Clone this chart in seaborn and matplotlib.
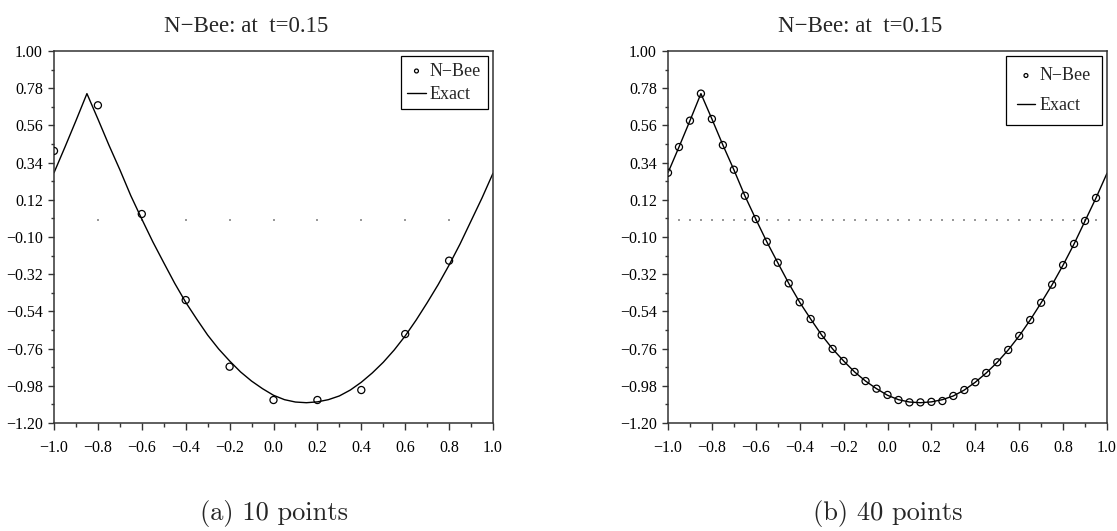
import numpy as np
import pandas as pd
import matplotlib
matplotlib.use("Agg")
import matplotlib.pyplot as plt
from matplotlib.ticker import MultipleLocator, FuncFormatter
import seaborn as sns

# ==========================
# Data
# ==========================

exact_x = [-1.00, -0.95, -0.90, -0.85, -0.80, -0.75, -0.70, -0.65, -0.60, -0.55,
           -0.50, -0.45, -0.40, -0.35, -0.30, -0.25, -0.20, -0.15, -0.10, -0.05,
           0.00, 0.05, 0.10, 0.15, 0.20, 0.25, 0.30, 0.35, 0.40, 0.45,
           0.50, 0.55, 0.60, 0.65, 0.70, 0.75, 0.80, 0.85, 0.90, 0.95, 1.00]
exact_y = [0.280, 0.432, 0.588, 0.748, 0.598, 0.444, 0.298, 0.144, 0.006, -0.128,
           -0.252, -0.374, -0.486, -0.585, -0.680, -0.762, -0.833, -0.898, -0.952, -0.997,
           -1.036, -1.062, -1.076, -1.080, -1.075, -1.062, -1.040, -1.005, -0.959, -0.904,
           -0.841, -0.768, -0.685, -0.591, -0.489, -0.382, -0.266, -0.141, -0.005, 0.131, 0.277]

# 10 point run
nbee10_x = [-1.0, -0.8, -0.6, -0.4, -0.2, 0.0, 0.2, 0.4, 0.6, 0.8]
nbee10_y = [0.409, 0.679, 0.036, -0.473, -0.867, -1.064, -1.064, -1.005, -0.674, -0.240]

# 40 point run
nbee40_x = exact_x[:-1]
nbee40_y = [0.280, 0.432, 0.588, 0.748, 0.598, 0.444, 0.298, 0.144, 0.006, -0.128,
            -0.252, -0.374, -0.486, -0.585, -0.680, -0.762, -0.833, -0.898, -0.952, -0.997,
            -1.034, -1.064, -1.078, -1.078, -1.075, -1.070, -1.040, -1.005, -0.959, -0.904,
            -0.841, -0.768, -0.685, -0.591, -0.489, -0.382, -0.266, -0.141, -0.005, 0.131]

title_text = "N\u2212Bee: at  t=0.15"
captions = ["(a) 10 points", "(b) 40 points"]

sns.set_style("ticks")
plt.rcParams['font.family'] = ['Liberation Serif', 'DejaVu Serif']


def fmt(decimals):
    return FuncFormatter(lambda v, pos: f"{v:.{decimals}f}".replace("-", "\u2212"))


fig = plt.figure(figsize=(11.17, 5.31), dpi=100)
ax_left = fig.add_axes([54 / 1117, 108 / 531, 439 / 1117, 372 / 531])
ax_right = fig.add_axes([668 / 1117, 108 / 531, 439 / 1117, 372 / 531])

exact_df = pd.DataFrame({"x": exact_x, "y": exact_y})
runs = [
    (ax_left, pd.DataFrame({"x": nbee10_x, "y": nbee10_y}), 0.35, 0.35),
    (ax_right, pd.DataFrame({"x": nbee40_x, "y": nbee40_y}), 0.6, 0.7),
]

for i, (ax, pts, bpad, lspace) in enumerate(runs):
    # sparse dotted zero line at the interior grid points
    zero_df = pd.DataFrame({"x": pts["x"].iloc[1:], "y": 0.0})
    sns.scatterplot(data=zero_df, x="x", y="y", ax=ax, marker="s", s=1.0,
                    color="#999999", linewidth=0, legend=False)

    sns.scatterplot(data=pts, x="x", y="y", ax=ax, marker="o", s=26,
                    facecolor="none", edgecolor="black", linewidth=0.9,
                    label="N\u2212Bee", zorder=3)
    sns.lineplot(data=exact_df, x="x", y="y", ax=ax, color="black", lw=1.0,
                 sort=False, estimator=None, label="Exact")

    ax.set_xlim(-1.0, 1.0)
    ax.set_ylim(-1.20, 1.00)
    ax.xaxis.set_major_locator(MultipleLocator(0.2))
    ax.xaxis.set_minor_locator(MultipleLocator(0.1))
    ax.set_yticks(np.round(np.arange(-1.20, 1.001, 0.22), 2))
    ax.set_yticks(np.round(np.arange(-1.09, 1.0, 0.22), 2), minor=True)
    ax.xaxis.set_major_formatter(fmt(1))
    ax.yaxis.set_major_formatter(fmt(2))
    ax.set_xlabel("")
    ax.set_ylabel("")

    for side in ["left", "bottom", "top", "right"]:
        ax.spines[side].set_visible(True)
        ax.spines[side].set_color("#333333")
        ax.spines[side].set_linewidth(1.1)

    ax.tick_params(axis="both", which="both", direction="out", colors="#333333",
                   labelcolor="black", labelsize=11.5, width=1.0)
    ax.tick_params(axis="y", which="major", length=4, pad=4)
    ax.tick_params(axis="y", which="minor", length=2.5)
    ax.tick_params(axis="x", which="major", length=5, pad=7)
    ax.tick_params(axis="x", which="minor", length=3)

    leg = ax.legend(loc="upper right", fontsize=13, frameon=True, fancybox=False,
                    edgecolor="black", framealpha=1, borderpad=bpad,
                    borderaxespad=0.3, handlelength=1.0, handletextpad=0.25,
                    labelspacing=lspace, markerscale=0.55)
    leg.get_frame().set_linewidth(0.9)

    ax.text(0.5 - 27 / 439, 1.051, title_text, transform=ax.transAxes,
            ha="center", va="baseline", fontsize=16.5)

    ax.text(0.5, -0.262, captions[i], transform=ax.transAxes, ha="center",
            va="baseline", fontsize=19, family="cmr10")

fig.savefig("out.png", dpi=100)
